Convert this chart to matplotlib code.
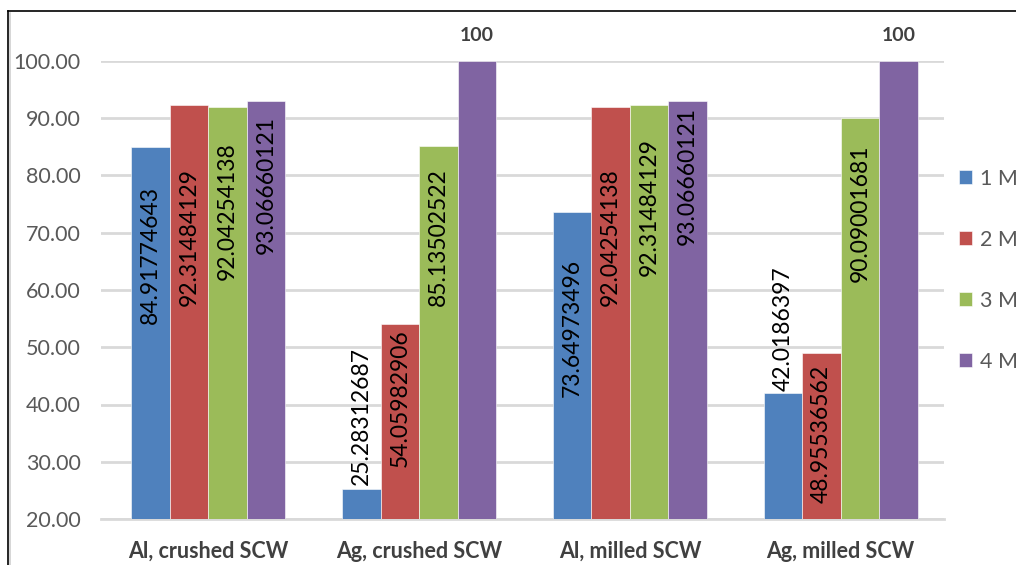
import matplotlib
matplotlib.use("Agg")
import matplotlib.pyplot as plt
from matplotlib.lines import Line2D
import numpy as np

plt.rcParams['font.family'] = ['Lato', 'DejaVu Sans']

# Recovery (%) by sample and acid concentration
categories = ["Al, crushed SCW", "Ag, crushed SCW", "Al, milled SCW", "Ag, milled SCW"]
series_names = ["1 M", "2 M", "3 M", "4 M"]
values_1M = [84.91774643, 25.28312687, 73.64973496, 42.0186397]
values_2M = [92.31484129, 54.05982906, 92.04254138, 48.95536562]
values_3M = [92.04254138, 85.13502522, 92.31484129, 90.09001681]
values_4M = [93.06660121, 100, 93.06660121, 100]
y_ticks = [20, 30, 40, 50, 60, 70, 80, 90, 100]

# Vertical centre (data units) of each rotated value label, per series
label_centres = [
    [66.1, 38.0, 53.4, 53.3],
    [69.2, 41.1, 69.3, 34.9],
    [73.7, 69.2, 74.5, 73.4],
    [78.3, 104.5, 79.9, 104.5],
]

colors = ["#4f81bd", "#c0504d", "#9bbb59", "#8064a2"]
all_values = [values_1M, values_2M, values_3M, values_4M]

W, H = 1016, 565
fig = plt.figure(figsize=(W / 100, H / 100), dpi=100)
ax = fig.add_axes([101 / W, (H - 519) / H, 843 / W, (519 - 61) / H])

x = np.arange(len(categories))
bw = 0.1827
offsets = (np.arange(4) - 1.5) * bw

handles = []
for i, (vals, col) in enumerate(zip(all_values, colors)):
    bars = ax.bar(x + offsets[i], np.array(vals) - 20, bottom=20, width=bw,
                  color=col, edgecolor="white", linewidth=0.4, zorder=3,
                  label=series_names[i])
    handles.append(bars)
    for j, v in enumerate(vals):
        txt = f"{v:.10g}"
        if v >= 100:
            ax.text(x[j] + offsets[i], label_centres[i][j], txt, ha="center",
                    va="center", fontsize=14, fontweight="bold", color="#404040",
                    clip_on=False, zorder=5)
        else:
            ax.text(x[j] + offsets[i], label_centres[i][j], txt, rotation=90,
                    ha="center", va="center", fontsize=16.5, color="black",
                    zorder=5)

ax.set_ylim(20, 100)
ax.set_xlim(-0.51, 3.49)
ax.set_yticks(y_ticks)
ax.set_yticklabels([f"{t:.2f}" for t in y_ticks])
ax.set_xticks(x)
ax.set_xticklabels(categories, fontweight="bold")
ax.tick_params(axis="y", length=0, pad=14.5, labelsize=15.5, labelcolor="#595959")
ax.tick_params(axis="x", length=0, pad=15.5, labelsize=15.5, labelcolor="#404040")
ax.grid(axis="y", color="#d9d9d9", linewidth=2, zorder=0)
ax.set_axisbelow(True)
for s in ["left", "right", "top"]:
    ax.spines[s].set_visible(False)
ax.spines["bottom"].set_color("#d9d9d9")
ax.spines["bottom"].set_linewidth(2)

leg = ax.legend(handles=handles, loc="upper left",
                bbox_to_anchor=(959 / W, (H - 169) / H), bbox_transform=fig.transFigure,
                frameon=False, fontsize=15.5, labelcolor="#595959",
                handlelength=0.62, handleheight=0.62, handletextpad=0.35,
                labelspacing=1.9, borderpad=0, borderaxespad=0)

# Outer frame
fig.add_artist(Line2D([7.5 / W, 1.0], [1 - 11 / H, 1 - 11 / H], color="black",
                      linewidth=1.2, transform=fig.transFigure))
fig.add_artist(Line2D([7.5 / W, 7.5 / W], [0, 1 - 11 / H], color="black",
                      linewidth=1.2, transform=fig.transFigure))
fig.add_artist(Line2D([9.8 / W, 9.8 / W], [0, 1 - 12.5 / H], color="#d0d0d0",
                      linewidth=1.2, transform=fig.transFigure))

fig.savefig("out.png", dpi=100)
